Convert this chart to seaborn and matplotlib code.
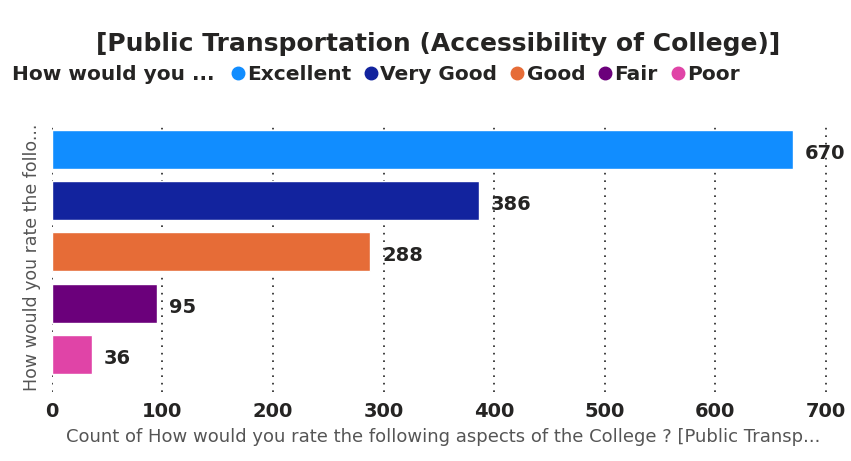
import seaborn as sns
import matplotlib.pyplot as plt
import pandas as pd
from matplotlib.lines import Line2D

# Chart data
ratings = ['Excellent', 'Very Good', 'Good', 'Fair', 'Poor']
counts = [670, 386, 288, 95, 36]
colors = ['#118DFF', '#12239E', '#E66C37', '#6B007B', '#E044A7']
x_ticks = [0, 100, 200, 300, 400, 500, 600, 700]

df = pd.DataFrame({'Rating': ratings, 'Count': counts})

sns.set_style('white')
plt.rcParams['font.family'] = ['DejaVu Sans']

fig = plt.figure(figsize=(8.51, 4.61), dpi=100)
ax = fig.add_axes([0.061, 0.15, 0.92, 0.585])

sns.barplot(data=df, x='Count', y='Rating', hue='Rating', palette=colors,
            order=ratings, hue_order=ratings, width=0.76, legend=False,
            saturation=1, orient='h', ax=ax)

ax.set_xlim(0, 708)
ax.set_ylim(4.725, -0.525)
ax.set_xticks(x_ticks)
ax.set_xticklabels([str(t) for t in x_ticks], fontsize=14, fontweight='bold',
                   color='#252423')
ax.set_yticks([])
ax.tick_params(axis='x', length=0, pad=7)
ax.grid(axis='x', color='#222222', linestyle=(0, (1, 3.5)), linewidth=1.2)
ax.set_axisbelow(True)
for s in ax.spines.values():
    s.set_visible(False)

ax.set_xlabel('Count of How would you rate the following aspects of the College ? [Public Transp...',
              fontsize=13, color='#555555', labelpad=5)
ax.set_ylabel('How would you rate the follo...', fontsize=12.5, color='#555555',
              labelpad=8)

# data labels
for i, v in enumerate(counts):
    ax.text(v + 11, i + 0.08, str(v), va='center', ha='left', fontsize=14,
            fontweight='bold', color='#252423')

fig.text(0.515, 0.905, '[Public Transportation (Accessibility of College)]',
         ha='center', va='center', fontsize=18, fontweight='bold',
         color='#252423')

fig.text(0.014, 0.838, 'How would you ...', ha='left', va='center',
         fontsize=14.5, fontweight='bold', color='#252423')
handles = [Line2D([], [], marker='o', linestyle='', markersize=9,
                  markerfacecolor=c, markeredgecolor=c) for c in colors]
fig.legend(handles, ratings, loc='center left', bbox_to_anchor=(0.27, 0.838),
           ncol=5, frameon=False, handletextpad=0.05, columnspacing=0.6,
           handlelength=0.8, borderaxespad=0, borderpad=0,
           prop={'size': 14.5, 'weight': 'bold'}, labelcolor='#252423')

plt.savefig('out.png', dpi=100)
